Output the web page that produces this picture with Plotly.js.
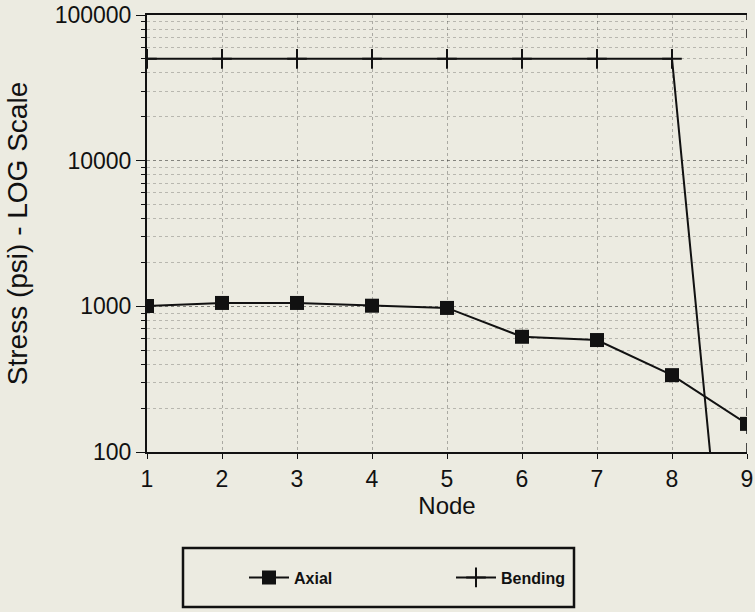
<!DOCTYPE html>
<html>
<head>
<meta charset="utf-8">
<script src="https://cdn.plot.ly/plotly-3.0.1.min.js"></script>
<style>
html,body{margin:0;padding:0;background:#ecebe1;}
#chart{width:755px;height:612px;}
</style>
</head>
<body>
<div id="chart"></div>
<script>
const nodes = [1, 2, 3, 4, 5, 6, 7, 8, 9];
const axialStress = [1005, 1055, 1055, 1010, 975, 618, 587, 337, 156];
const bendingStress = [50000, 50000, 50000, 50000, 50000, 50000, 50000, 50000, 0.24];
const yTickVals = [100, 1000, 10000, 100000];
const yTickText = ['100', '1000', '10000', '100000'];

const traces = [
  {
    x: nodes, y: axialStress, name: 'Axial', type: 'scatter', mode: 'lines+markers',
    line: {color: '#111', width: 2},
    marker: {symbol: 'square', size: 14, color: '#111'}
  },
  {
    x: nodes, y: bendingStress, name: 'Bending', type: 'scatter', mode: 'lines+markers',
    line: {color: '#111', width: 2},
    marker: {symbol: 'cross-thin', size: 14, line: {color: '#111', width: 2}}
  }
];

const layout = {
  width: 755, height: 612,
  paper_bgcolor: '#ecebe1', plot_bgcolor: '#ecebe1',
  margin: {l: 147, r: 8, t: 15, b: 160},
  font: {family: 'Liberation Sans, Arial, sans-serif', color: '#111'},
  showlegend: true,
  xaxis: {
    range: [1, 9], tickvals: nodes, ticks: 'outside', ticklen: 5, tickcolor: '#111',
    showline: true, linecolor: '#111', linewidth: 2, mirror: true,
    showgrid: true, gridcolor: 'rgba(0,0,0,0.28)', griddash: 'dot', gridwidth: 1,
    zeroline: false,
    tickfont: {size: 23},
    title: {text: 'Node', font: {size: 24}, standoff: 6}
  },
  yaxis: {
    type: 'log', range: [2, 5], tickvals: yTickVals, ticktext: yTickText,
    ticks: 'outside', ticklen: 9, tickcolor: '#111',
    showline: true, linecolor: '#111', linewidth: 2,
    showgrid: true, gridcolor: 'rgba(0,0,0,0.28)', griddash: 'dot', gridwidth: 1,
    minor: {dtick: 'D1', ticks: 'outside', ticklen: 4, tickcolor: '#111', showgrid: true,
            gridcolor: 'rgba(0,0,0,0.22)', griddash: 'dot', gridwidth: 1},
    zeroline: false,
    tickfont: {size: 23},
    title: {text: 'Stress (psi) - LOG Scale', font: {size: 28}, standoff: 19}
  },
  legend: {
    orientation: 'h', x: (244 - 147) / 600, xanchor: 'left', y: (452 - 577.5) / 437, yanchor: 'middle',
    bgcolor: 'rgba(0,0,0,0)', borderwidth: 0,
    font: {size: 16, family: 'Liberation Sans, Arial, sans-serif', weight: 'bold'},
    entrywidth: 152, itemwidth: 40
  },
  shapes: [
    {type: 'line', xref: 'x', yref: 'paper', x0: 9, x1: 9, y0: 0, y1: 1,
     line: {color: '#111', width: 1.5, dash: 'dash'}},
    {type: 'rect', xref: 'paper', yref: 'paper',
     x0: (183 - 147) / 600, x1: (574 - 147) / 600,
     y0: (452 - 607) / 437, y1: (452 - 548) / 437,
     line: {color: '#111', width: 2.5}, fillcolor: 'rgba(0,0,0,0)'}
  ]
};

Plotly.newPlot('chart', traces, layout, {displayModeBar: false, staticPlot: true});
</script>
</body>
</html>
